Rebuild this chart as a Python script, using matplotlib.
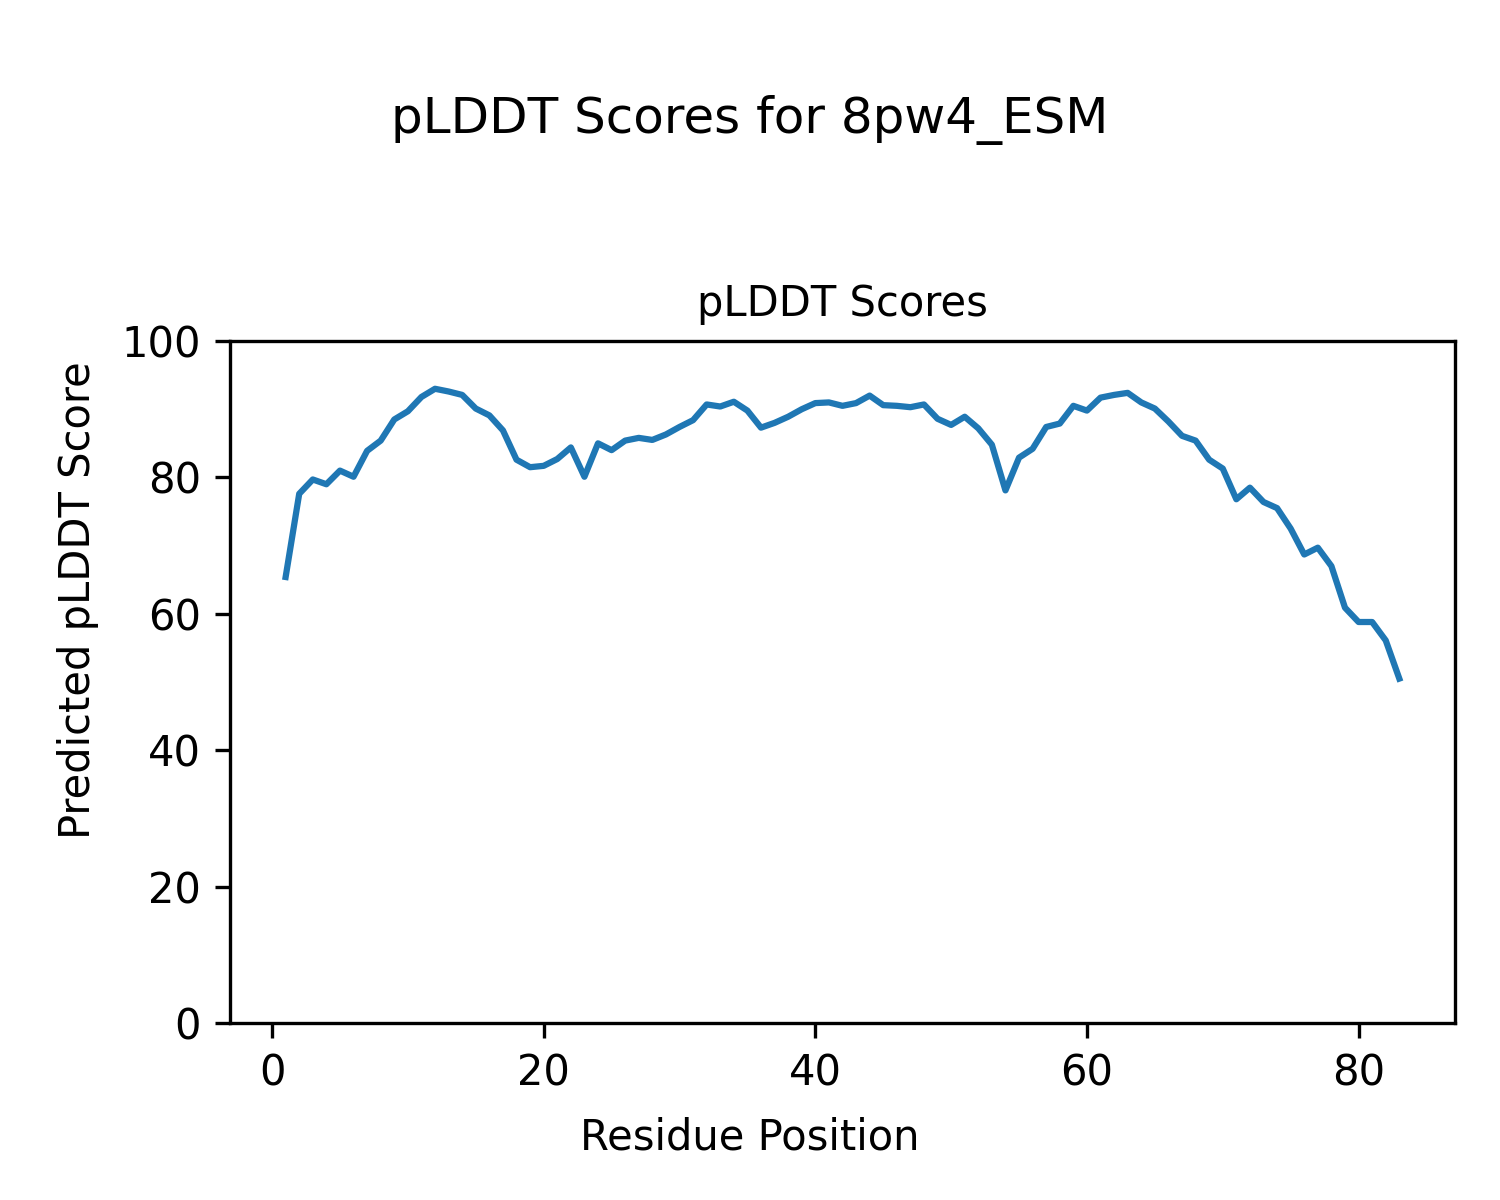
import matplotlib
matplotlib.use('Agg')
import matplotlib.pyplot as plt

# per-residue pLDDT scores
residues = list(range(1, 84))
plddt = [65.4, 77.6, 79.7, 79.0, 81.0, 80.1, 83.9, 85.4, 88.5, 89.7,
         91.8, 93.0, 92.6, 92.1, 90.1, 89.1, 86.9, 82.6, 81.5, 81.7,
         82.7, 84.4, 80.1, 85.0, 84.0, 85.4, 85.8, 85.5, 86.3, 87.4,
         88.4, 90.7, 90.4, 91.1, 89.8, 87.3, 88.0, 88.9, 90.0, 90.9,
         91.0, 90.5, 90.9, 92.0, 90.6, 90.5, 90.3, 90.7, 88.6, 87.7,
         88.9, 87.2, 84.8, 78.1, 82.9, 84.2, 87.4, 87.9, 90.5, 89.8,
         91.7, 92.1, 92.4, 91.0, 90.1, 88.2, 86.1, 85.4, 82.6, 81.3,
         76.8, 78.5, 76.4, 75.5, 72.5, 68.7, 69.7, 67.0, 60.9, 58.8,
         58.8, 56.1, 50.5]

fig = plt.figure(figsize=(5, 4), dpi=300)
fig.suptitle('pLDDT Scores for 8pw4_ESM', fontsize=12, y=0.9, va='center')

ax = fig.add_axes([0.1533, 0.1475, 0.8167, 0.5683])
ax.plot(residues, plddt, color='#1f77b4', linewidth=1.5)
ax.set_ylim(0, 100)
ax.set_title('pLDDT Scores', fontsize=10)

# axis labels are figure-level, centred on the figure
fig.supxlabel('Residue Position', fontsize=10, y=0.052, va='center')
fig.supylabel('Predicted pLDDT Score', fontsize=10, x=0.052, ha='center')

fig.savefig('out.png', dpi=300)
